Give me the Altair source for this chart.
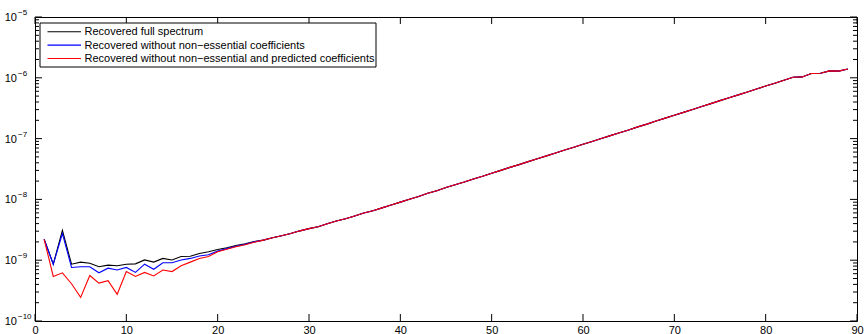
import altair as alt
import pandas as pd

# Mode index (x) and recovered power for each of the three reconstructions
modes = list(range(1, 90))

full_spectrum = [
    2.21e-9, 8.6e-10, 3.09e-9, 8.6e-10, 9.3e-10, 8.9e-10, 7.8e-10, 8.3e-10, 8.1e-10, 8.6e-10,
    8.7e-10, 1.01e-9, 9.3e-10, 1.07e-9, 1.01e-9, 1.15e-9, 1.16e-9, 1.29e-9, 1.38e-9, 1.50e-9,
    1.60e-9, 1.74e-9, 1.86e-9, 2.02e-9, 2.14e-9, 2.34e-9, 2.52e-9, 2.75e-9, 3.04e-9, 3.31e-9,
    3.55e-9, 3.98e-9, 4.40e-9, 4.80e-9, 5.33e-9, 5.96e-9, 6.50e-9, 7.26e-9, 8.10e-9, 9.02e-9,
    1.005e-8, 1.12e-8, 1.26e-8, 1.39e-8, 1.57e-8, 1.74e-8, 1.93e-8, 2.17e-8, 2.41e-8, 2.70e-8,
    3.00e-8, 3.36e-8, 3.73e-8, 4.18e-8, 4.65e-8, 5.20e-8, 5.78e-8, 6.47e-8, 7.20e-8, 8.05e-8,
    8.96e-8, 1.00e-7, 1.12e-7, 1.25e-7, 1.39e-7, 1.56e-7, 1.73e-7, 1.94e-7, 2.17e-7, 2.42e-7,
    2.70e-7, 3.02e-7, 3.37e-7, 3.76e-7, 4.21e-7, 4.70e-7, 5.24e-7, 5.86e-7, 6.55e-7, 7.31e-7,
    8.16e-7, 9.12e-7, 1.02e-6, 1.035e-6, 1.175e-6, 1.19e-6, 1.30e-6, 1.29e-6, 1.40e-6,
]

without_nonessential_low = [
    2.21e-9, 8.6e-10, 2.75e-9, 7.6e-10, 7.8e-10, 7.8e-10, 6.2e-10, 7.4e-10, 6.9e-10, 7.6e-10,
    6.3e-10, 8.6e-10, 7.1e-10, 9.1e-10, 9.1e-10, 1.01e-9, 1.07e-9, 1.17e-9, 1.23e-9, 1.41e-9,
    1.55e-9, 1.70e-9, 1.82e-9, 2.00e-9,
]

without_predicted_low = [
    2.21e-9, 5.4e-10, 6.2e-10, 4.1e-10, 2.45e-10, 5.6e-10, 4.2e-10, 4.6e-10, 2.75e-10, 6.5e-10,
    5.4e-10, 6.3e-10, 5.5e-10, 6.9e-10, 6.5e-10, 8.1e-10, 9.3e-10, 1.07e-9, 1.15e-9, 1.38e-9,
    1.51e-9, 1.66e-9, 1.80e-9, 1.97e-9,
]

# Above mode 24 the reduced reconstructions coincide with the full one
without_nonessential = without_nonessential_low + full_spectrum[24:]
without_predicted = without_predicted_low + full_spectrum[24:]

series_names = [
    "Recovered full spectrum",
    "Recovered without non\u2212essential coefficients",
    "Recovered without non\u2212essential and predicted coefficients",
]
series_colors = ["#000000", "#0000ff", "#ff0000"]

x_ticks = [0, 10, 20, 30, 40, 50, 60, 70, 80, 90]
y_decades = [1e-10, 1e-9, 1e-8, 1e-7, 1e-6, 1e-5]
y_exponents = ["\u221210", "\u22129", "\u22128", "\u22127", "\u22126", "\u22125"]
y_minor = [k * d for d in y_decades[:-1] for k in range(2, 10)]

W, H = 822, 304
FONT = "Liberation Sans"

xs = alt.Scale(domain=[0, 90], nice=False, zero=False)
ys = alt.Scale(type="log", domain=[1e-10, 1e-5], nice=False)

x_axis = alt.Axis(
    values=x_ticks, ticks=False, domain=False, grid=False, title=None,
    labelFont=FONT, labelFontSize=11, labelColor="black", labelPadding=3,
    labelFlush=False, labelOverlap=False, format="d",
)

# One line layer per reconstruction, drawn black, then blue, then red on top
lines = []
for name, vals, col in zip(series_names,
                           [full_spectrum, without_nonessential, without_predicted],
                           series_colors):
    f = pd.DataFrame({"mode": modes, "power": vals})
    lines.append(
        alt.Chart(f).mark_line(strokeWidth=1.1, clip=True, color=col).encode(
            x=alt.X("mode:Q", scale=xs, axis=x_axis),
            y=alt.Y("power:Q", scale=ys, axis=None),
        )
    )

# Inward tick marks on all four sides
xt = pd.DataFrame({"mode": x_ticks})
yt = pd.DataFrame({"power": y_decades})
ym = pd.DataFrame({"power": y_minor})

def xrule(y0, y1):
    return alt.Chart(xt).mark_rule(color="black", strokeWidth=1).encode(
        x=alt.X("mode:Q", scale=xs, axis=x_axis), y=alt.value(y0), y2=alt.value(y1))

def yrule(df, x0, x1):
    return alt.Chart(df).mark_rule(color="black", strokeWidth=1).encode(
        y=alt.Y("power:Q", scale=ys, axis=None), x=alt.value(x0), x2=alt.value(x1))

ticks = [
    xrule(H, H - 7), xrule(0, 7),
    yrule(yt, 0, 7), yrule(yt, W, W - 7),
    yrule(ym, 0, 4), yrule(ym, W, W - 4),
]

# Decade labels written as 10 with a raised exponent
ylab = pd.DataFrame({"power": y_decades, "e": y_exponents})
base_lab = alt.Chart(ylab).mark_text(
    align="right", baseline="middle", font=FONT, fontSize=11, color="black", dy=1
).encode(y=alt.Y("power:Q", scale=ys, axis=None), x=alt.value(-18), text=alt.value("10"))
exp_lab = alt.Chart(ylab).mark_text(
    align="left", baseline="middle", font=FONT, fontSize=8, color="black", dy=-4
).encode(y=alt.Y("power:Q", scale=ys, axis=None), x=alt.value(-17), text="e:N")

# Boxed legend in the upper-left corner
legend_layers = [
    alt.Chart(pd.DataFrame({"a": [0]})).mark_rect(
        fill="white", stroke="black", strokeWidth=1
    ).encode(x=alt.value(5), x2=alt.value(341), y=alt.value(6), y2=alt.value(50))
]
for i, (name, col) in enumerate(zip(series_names, series_colors)):
    yy = 14.7 + 13.4 * i
    row = pd.DataFrame({"label": [name]})
    legend_layers.append(
        alt.Chart(row).mark_rule(color=col, strokeWidth=1.1).encode(
            x=alt.value(12.5), x2=alt.value(46), y=alt.value(yy))
    )
    legend_layers.append(
        alt.Chart(row).mark_text(
            align="left", baseline="middle", font=FONT, fontSize=11, color="black", dy=0.5
        ).encode(x=alt.value(49.5), y=alt.value(yy), text="label:N")
    )

chart = alt.layer(*lines, *ticks, base_lab, exp_lab, *legend_layers).properties(
    width=W, height=H,
    padding={"left": 35, "top": 17, "right": 9, "bottom": 13},
    autosize=alt.AutoSizeParams(type="none"),
    background="white",
).configure_view(stroke="black", strokeWidth=1)

chart.save("out.html", embed_options={"renderer": "svg", "actions": False})
